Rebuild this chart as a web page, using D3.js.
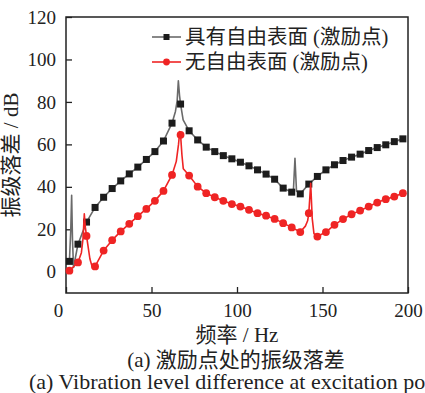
<!DOCTYPE html>
<html>
<head>
<meta charset="utf-8">
<script src="https://cdn.jsdelivr.net/npm/d3@7"></script>
<style>
    body { margin: 0; background: #fff; }
    #chart-area { width: 425px; height: 393px; }
    text { font-family: "Liberation Serif", "Times New Roman", "Noto Sans CJK SC", serif; fill: #222; }
</style>
</head>
<body>
<div id="chart-area"></div>
<script>

// marker frequencies (Hz), both series share them
let freq = [2, 7, 12, 17, 22, 27, 32, 37, 42, 47, 52, 57, 62, 67, 72, 77, 82, 87, 92, 97,
    102, 107, 112, 117, 122, 127, 132, 137, 142, 147, 152, 157, 162, 167, 172, 177, 182, 187, 192, 197];

// 具有自由表面 (激励点) - marker values (dB)
let withSurface = [4.9, 13.0, 23.4, 30.3, 35.1, 39.2, 42.8, 46.1, 49.3, 52.9, 56.6, 61.6, 70, 79, 66.4, 62.1, 58.7, 56.6, 54.7, 53.2,
    51.6, 49.9, 48, 46, 43.6, 39.4, 37.5, 36.7, 41.3, 44.9, 48, 50.4, 52.4, 54, 55.4, 57.1, 58.5, 59.8, 61.3, 62.6];

// resonance points that sit between markers (line only)
let withSurfacePeaks = [[2.8, 20], [3.3, 36], [3.8, 15], [4.4, 2], [64, 75.5], [65, 80.5], [65.7, 90], [66.4, 83],
    [68.5, 71.5], [133.0, 38.5], [133.9, 53.5], [134.8, 38]];

// 无自由表面 (激励点) - marker values (dB)
let noSurface = [0.5, 4.4, 16.9, 2.5, 10, 14.9, 19, 22.6, 26.2, 29.6, 33.4, 38.1, 45.6, 64.5, 45.3, 40.1, 37, 35.1, 33.4, 31.9,
    30.7, 29.2, 27.6, 26.4, 24.9, 22.9, 20.9, 18.7, 27.6, 16.6, 18.7, 22.1, 24.8, 27.1, 28.8, 30.7, 32.6, 34.2, 35.4, 37];

let noSurfacePeaks = [[9, 9], [10, 16], [10.7, 27.3], [11.3, 21], [14, 6], [15.5, 1.8], [64.5, 52], [65.8, 60], [66.5, 66],
    [67.8, 55], [68.6, 48.5], [140, 21.5], [141.3, 24], [143.1, 41.7], [144, 25], [145, 18]];

let xTicks = [0, 50, 100, 150, 200];
let yTicks = [0, 20, 40, 60, 80, 100, 120];

let legendNames = ["具有自由表面 (激励点)", "无自由表面 (激励点)"];


class LineVis {

    constructor(parentElement) {
        this.parentElement = parentElement;
        this.initVis();
    }

    initVis() {
        let vis = this;

        vis.margin = {top: 17, right: 17, bottom: 100, left: 66};
        vis.width = 425 - vis.margin.left - vis.margin.right;
        vis.height = 393 - vis.margin.top - vis.margin.bottom;

        vis.svg = d3.select("#" + vis.parentElement).append("svg")
            .attr("width", 425)
            .attr("height", 393)
            .append("g")
            .attr("transform", `translate(${vis.margin.left}, ${vis.margin.top})`);

        // scales
        vis.x = d3.scaleLinear().domain([0, 200]).range([0, vis.width]);
        vis.y = d3.scaleLinear().domain([-10, 120]).range([vis.height, 0]);

        // axes, ticks pointing inwards
        vis.xAxis = d3.axisBottom(vis.x).tickValues(xTicks).tickSizeInner(-6).tickSizeOuter(0).tickPadding(11);
        vis.yAxis = d3.axisLeft(vis.y).tickValues(yTicks).tickSizeInner(-6).tickSizeOuter(0).tickPadding(10);

        vis.svg.append("g")
            .attr("class", "x axis")
            .attr("transform", `translate(0, ${vis.height})`)
            .call(vis.xAxis);

        vis.svg.append("g")
            .attr("class", "y axis")
            .call(vis.yAxis);

        vis.svg.selectAll(".axis text").style("font-size", "19px").attr("fill", "#222");
        vis.svg.selectAll(".axis line").attr("stroke", "#222").attr("stroke-width", 1.3);
        vis.svg.selectAll(".axis path").remove();
        // the origin label on the x axis sits slightly left
        vis.svg.selectAll(".x.axis .tick text").filter(d => d === 0).attr("dx", -8);

        // frame
        vis.svg.append("rect")
            .attr("width", vis.width)
            .attr("height", vis.height)
            .attr("fill", "none")
            .attr("stroke", "#222")
            .attr("stroke-width", 1.5);

        // axis titles
        vis.svg.append("text")
            .attr("transform", `translate(-48, ${vis.height / 2}) rotate(-90)`)
            .attr("text-anchor", "middle")
            .style("font-size", "21px")
            .text("振级落差 / dB");

        vis.svg.append("text")
            .attr("x", vis.width / 2)
            .attr("y", vis.height + 49)
            .attr("text-anchor", "middle")
            .style("font-size", "21px")
            .text("频率 / Hz");

        // captions below the chart
        vis.svg.append("text")
            .attr("x", 236 - vis.margin.left)
            .attr("y", vis.height + 74)
            .attr("text-anchor", "middle")
            .style("font-size", "21px")
            .text("(a) 激励点处的振级落差");

        // runs past the right edge, as in the source figure
        vis.svg.append("text")
            .attr("x", 29 - vis.margin.left)
            .attr("y", vis.height + 96)
            .style("font-size", "22px")
            .text("(a) Vibration level difference at excitation point");

        vis.wrangleData();
    }

    wrangleData() {
        let vis = this;

        vis.series = [
            {name: legendNames[0], line: "#6a6a6a", mark: "#1c1c1c", shape: "square",
                markers: freq.map((f, i) => [f, withSurface[i]]), peaks: withSurfacePeaks},
            {name: legendNames[1], line: "#ef2424", mark: "#ef2424", shape: "circle",
                markers: freq.map((f, i) => [f, noSurface[i]]), peaks: noSurfacePeaks}
        ];

        // line goes through markers and the resonance points
        vis.series.forEach(s => {
            s.path = s.markers.concat(s.peaks).sort((a, b) => a[0] - b[0]);
        });

        vis.updateVis();
    }

    drawMarker(sel, s, size) {
        if (s.shape === "square") {
            sel.append("rect")
                .attr("x", -size / 2).attr("y", -size / 2)
                .attr("width", size).attr("height", size)
                .attr("fill", s.mark);
        } else {
            sel.append("circle")
                .attr("r", size / 2 + 0.4)
                .attr("fill", s.mark);
        }
    }

    updateVis() {
        let vis = this;

        let line = d3.line()
            .x(d => vis.x(d[0]))
            .y(d => vis.y(d[1]));

        vis.series.forEach(s => {
            vis.svg.append("path")
                .datum(s.path)
                .attr("fill", "none")
                .attr("stroke", s.line)
                .attr("stroke-width", 1.6)
                .attr("stroke-linejoin", "round")
                .attr("d", line);

            vis.svg.append("g").selectAll("g")
                .data(s.markers)
                .enter()
                .append("g")
                .attr("transform", d => `translate(${vis.x(d[0])}, ${vis.y(d[1])})`)
                .each(function() { vis.drawMarker(d3.select(this), s, 7); });
        });

        // legend
        let legend = vis.svg.append("g")
            .attr("transform", `translate(${152 - vis.margin.left}, ${37 - vis.margin.top})`);

        vis.series.forEach((s, i) => {
            let row = legend.append("g").attr("transform", `translate(0, ${i * 25})`);
            row.append("line")
                .attr("x1", 0).attr("x2", 29)
                .attr("stroke", s.line)
                .attr("stroke-width", 1.6);
            let m = row.append("g").attr("transform", "translate(14.5, 0)");
            vis.drawMarker(m, s, 6);
            row.append("text")
                .attr("x", 33)
                .attr("dy", "0.35em")
                .style("font-size", "20.5px")
                .text(s.name);
        });
    }
}

let lineVis = new LineVis("chart-area");

</script>
</body>
</html>
